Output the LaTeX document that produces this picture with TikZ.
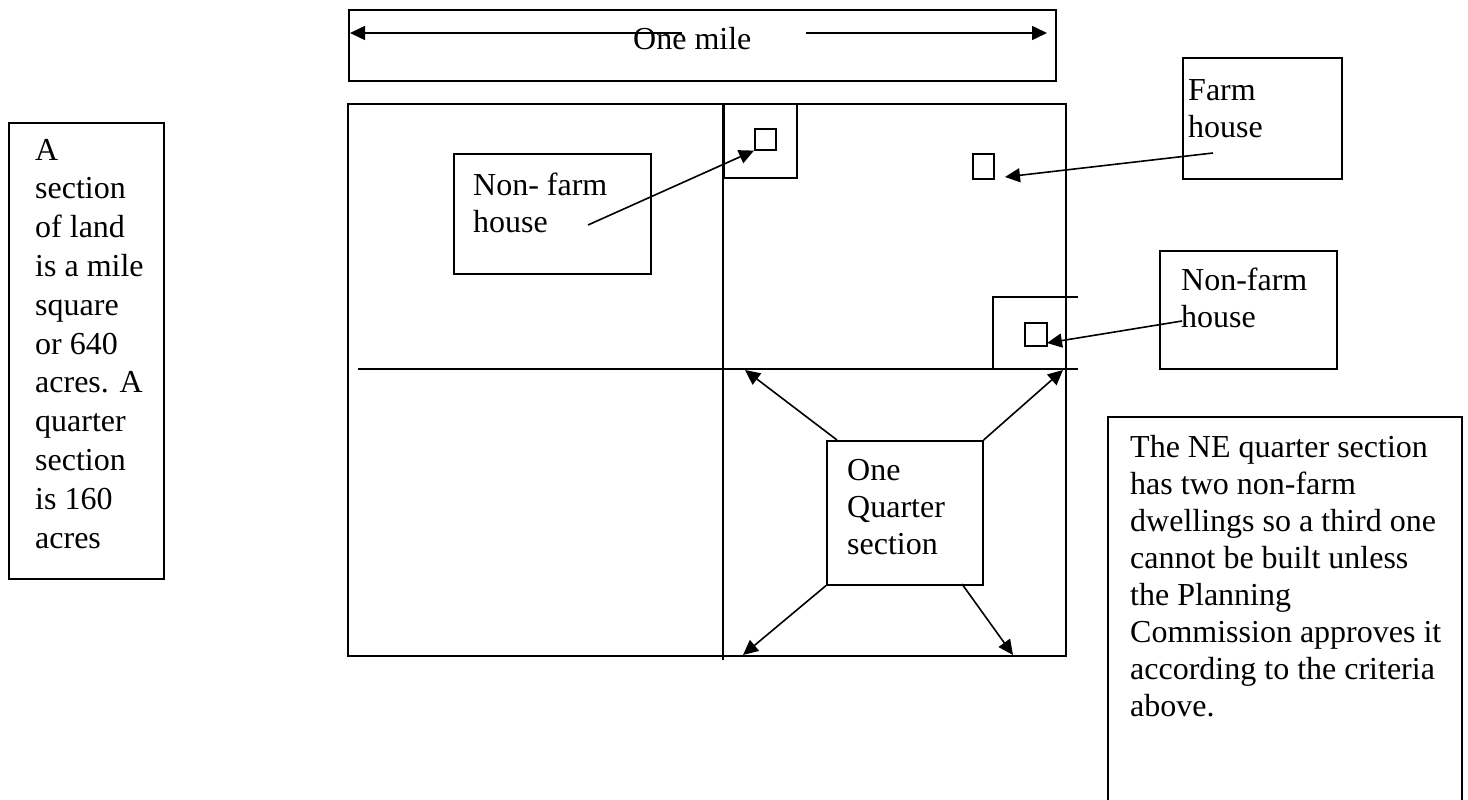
\documentclass[tikz,border=0pt]{standalone}
\usepackage{fontspec}
\setmainfont{Liberation Serif}
\usetikzlibrary{arrows.meta,calc}
\begin{document}
\begin{tikzpicture}[x=1pt,y=-1pt,
  ln/.style={line width=1.6pt},
  box/.style={draw,line width=1.6pt,inner sep=0pt,anchor=north west},
  house/.style={draw,line width=1.6pt,inner sep=0pt,anchor=north west},
  txt/.style={font=\fontsize{32}{37}\selectfont,align=left,inner sep=0pt,anchor=base west},
  txtl/.style={font=\fontsize{32}{38.8}\selectfont,align=left,inner sep=0pt,anchor=base west},
  arr/.style={line width=1.6pt,-{Triangle[length=15pt,width=14pt]}}]
\useasboundingbox (0,0) rectangle (1468,800);
% top "One mile" box
\node[box,minimum width=707pt,minimum height=71pt] (milebox) at (348,9) {};
\coordinate (mla) at (682,33);
\coordinate (mlb) at (350,33);
\coordinate (mra) at (806,33);
\coordinate (mrb) at (1047,33);
\draw[arr] (mla) -- (mlb);
\draw[arr] (mra) -- (mrb);
\node[txt] (miletxt) at (633,50) {One mile};
% the section
\node[box,minimum width=718pt,minimum height=552pt] (sec) at (347,103) {};
\draw[ln] (723,103) -- (723,660);
\draw[ln] (358,369) -- (1078,369);
% NW corner lot of NE quarter
\node[box,minimum width=73pt,minimum height=74pt] (lot1) at (723,103) {};
\node[house,minimum width=21pt,minimum height=21pt] (hs1) at (754,128) {};
% farm house square
\node[house,minimum width=21pt,minimum height=25pt] (hs2) at (972,153) {};
% SE lot
\draw[ln] (993,369) -- (993,297) -- (1078,297);
\node[house,minimum width=22pt,minimum height=23pt] (hs3) at (1024,322) {};
% Non- farm house box (left)
\node[box,minimum width=197pt,minimum height=120pt] (nfl) at (453,153) {};
\node[txt] (nfltxt) at (473,232) {Non- farm\\house};
\coordinate (nfla) at (588,225);
\draw[arr] (nfla) -- (hs1.south west);
% Farm house box
\node[box,minimum width=159pt,minimum height=121pt] (fh) at (1182,57) {};
\node[txt] (fhtxt) at (1188,137) {Farm\\house};
\coordinate (fha) at (1213,153);
\coordinate (fhb) at (1005,177);
\draw[arr] (fha) -- (fhb);
% Non-farm house box (right)
\node[box,minimum width=177pt,minimum height=118pt] (nfr) at (1159,250) {};
\node[txt] (nfrtxt) at (1181,327) {Non-farm\\house};
\coordinate (nfra) at (1182,321);
\coordinate (nfrb) at (1047,343);
\draw[arr] (nfra) -- (nfrb);
% One quarter section box
\node[box,minimum width=156pt,minimum height=144pt,fill=white] (qs) at (826,440) {};
\node[txt] (qstxt) at (847,554) {One\\Quarter\\section};
\coordinate (q1) at (837,440);
\coordinate (q1t) at (745,370);
\coordinate (q2t) at (1063,370);
\coordinate (q3t) at (743,655);
\coordinate (q4) at (962,584);
\coordinate (q4t) at (1013,655);
\draw[arr] (q1) -- (q1t);
\draw[arr] (qs.north east) -- (q2t);
\draw[arr] (qs.south west) -- (q3t);
\draw[arr] (q4) -- (q4t);
% left info box
\node[box,minimum width=155pt,minimum height=456pt] (info) at (8,122) {};
\node[txtl] (infotxt) at (35,548) {A\\section\\of land\\is a mile\\square\\or 640\\acres. A\\quarter\\section\\is 160\\acres};
% right note box (runs off the bottom)
\coordinate (nb1) at (1108,805);
\coordinate (nb2) at (1108,417);
\coordinate (nb3) at (1462,417);
\coordinate (nb4) at (1462,805);
\draw[ln] (nb1) -- (nb2) -- (nb3) -- (nb4);
\node[txt] (notetxt) at (1130,716) {The NE quarter section\\has two non-farm\\dwellings so a third one\\cannot be built unless\\the Planning\\Commission approves it\\according to the criteria\\above.};
\end{tikzpicture}
\end{document}
